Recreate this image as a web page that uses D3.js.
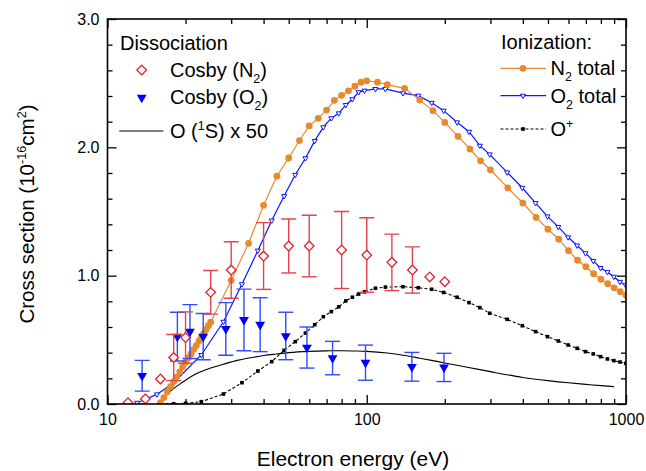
<!DOCTYPE html>
<html>
<head>
<meta charset="utf-8">
<script src="https://cdn.jsdelivr.net/npm/d3@7"></script>
<style>
  html, body { margin: 0; padding: 0; background: #fff; }
  svg { display: block; font-family: "Liberation Sans", Arial, sans-serif; }
</style>
</head>
<body>
<svg id="chart" width="646" height="471"></svg>
<script>
// ---------------- data ----------------
const n2Energy = [16,16.5,17,17.5,18,18.5,19,19.5,20,20.5,21,21.5,22,22.5,23,23.5,24,24.5,25,
  30,35,40,45,50,55,60,65,70,75,80,85,90,95,100,110,120,140,160,180,200,225,250,275,300,
  350,400,450,500,550,600,650,700,750,800,850,900,950,1000];
const n2Total = [0.01,0.05,0.095,0.135,0.175,0.21,0.25,0.29,0.325,0.36,0.39,0.425,0.455,0.49,0.52,0.55,0.58,0.61,0.637,
  0.963,1.252,1.548,1.775,1.917,2.053,2.167,2.226,2.29,2.366,2.405,2.44,2.476,2.507,2.518,2.507,2.488,2.46,2.368,2.286,2.194,2.085,1.987,1.895,1.825,
  1.684,1.566,1.454,1.362,1.284,1.195,1.12,1.07,1.015,0.972,0.937,0.905,0.875,0.848];

const o2Energy = [13,15.5,18,23,28,33,38,43,48,53,58,63,68,73,78,83,88,93,98,108,118,138,158,178,198,
  223,248,273,298,348,398,448,498,548,598,648,698,748,798,848,898,948,998];
const o2Total = [0.01,0.075,0.166,0.382,0.641,0.933,1.195,1.43,1.62,1.786,1.915,2.05,2.157,2.227,2.265,
  2.33,2.375,2.43,2.442,2.455,2.455,2.422,2.403,2.347,2.286,2.195,2.122,2.013,1.945,1.805,
  1.685,1.566,1.462,1.38,1.299,1.235,1.175,1.115,1.06,1.028,0.992,0.952,0.925];

const oPlusEnergy = [16,18,20,23,28,33,38,43,48,53,58,63,68,73,78,83,88,93,98,108,118,138,158,178,198,
  223,248,273,298,348,398,448,498,548,598,648,698,748,798,848,898,948,998];
const oPlus = [0,0.002,0.005,0.018,0.078,0.166,0.257,0.33,0.418,0.486,0.553,0.618,0.68,0.72,0.757,
  0.803,0.832,0.857,0.874,0.902,0.911,0.914,0.906,0.894,0.869,0.832,0.79,0.751,0.707,0.66,
  0.61,0.564,0.525,0.491,0.46,0.434,0.408,0.39,0.369,0.351,0.338,0.327,0.317];

const o1sEnergy = [16.3,17,18,19,20,22,25,28,32,36,40,45,50,60,70,80,90,100,120,140,160,180,200,250,300,400,500,600,700,800,900];
const o1sX50 = [0.04,0.08,0.12,0.155,0.185,0.235,0.28,0.31,0.342,0.362,0.378,0.39,0.4,0.41,0.414,0.415,0.413,0.41,0.397,0.378,0.357,0.338,0.32,0.283,0.252,0.207,0.182,0.165,0.153,0.143,0.135];

const cosbyN2Energy = [12,14,16,18,20,25,30,40,50,60,80,100,125,150,175,200];
const cosbyN2 = [0.01,0.04,0.195,0.362,0.518,0.87,1.044,1.153,1.231,1.231,1.2,1.161,1.104,1.044,0.99,0.953];
const cosbyN2Err = [0,0,0,0.18,0.2,0.17,0.22,0.26,0.21,0.24,0.3,0.29,0.22,0.18,0,0];

const cosbyO2Energy = [13.6,18.6,20.8,23.4,28.6,33.6,38.8,48.7,58.8,73.8,98.9,149.3,198.6];
const cosbyO2 = [0.22,0.525,0.564,0.525,0.585,0.655,0.618,0.53,0.44,0.358,0.322,0.29,0.285];
const cosbyO2Err = [0.12,0.19,0.21,0.18,0.205,0.24,0.21,0.185,0.16,0.13,0.137,0.112,0.11];

const xMajorTicks = [10,100,1000];
const xMinorTicks = [20,30,40,50,60,70,80,90,200,300,400,500,600,700,800,900];
const yMajorTicks = [0,1,2,3];
const yMinorTicks = [0.2,0.4,0.6,0.8,1.2,1.4,1.6,1.8,2.2,2.4,2.6,2.8];

// ---------------- layout ----------------
const L = 107.5, R = 626, T = 19, B = 404;
const svg = d3.select("#chart");
const x = d3.scaleLog().domain([10,1000]).range([L,R]);
const y = d3.scaleLinear().domain([0,3]).range([B,T]);

const ORANGE = "#E8892F", BLUE = "#0a14ff", RED = "#E3202A", REDBAR = "#E8424A", BLUEBAR = "#2F4BFF";

svg.append("defs").append("clipPath").attr("id","clip")
  .append("rect").attr("x",L).attr("y",T).attr("width",R-L).attr("height",B-T);

const plot = svg.append("g").attr("clip-path","url(#clip)");
const zip = (a,b) => a.map((v,i)=>[v,b[i]]);
const line = d3.line().x(d=>x(d[0])).y(d=>y(d[1]));

// O(1S) x 50
plot.append("path").datum(zip(o1sEnergy,o1sX50))
  .attr("d", line.curve(d3.curveMonotoneX)).attr("fill","none").attr("stroke","#000").attr("stroke-width",1.1);
line.curve(d3.curveLinear);

// O+
const opData = zip(oPlusEnergy,oPlus);
plot.append("path").datum(opData).attr("d",line).attr("fill","none")
  .attr("stroke","#000").attr("stroke-width",1.1).attr("stroke-dasharray","3,2");
plot.selectAll(".op").data(opData).join("rect")
  .attr("x",d=>x(d[0])-1.8).attr("y",d=>y(d[1])-1.8).attr("width",3.6).attr("height",3.6).attr("fill","#000");

// O2 total
const o2Data = zip(o2Energy,o2Total);
plot.append("path").datum(o2Data).attr("d",line).attr("fill","none").attr("stroke",BLUE).attr("stroke-width",1.2);
const smallTri = d3.symbol().type(d3.symbolTriangle).size(11);
plot.selectAll(".o2m").data(o2Data).join("path")
  .attr("d",smallTri).attr("transform",d=>`translate(${x(d[0])},${y(d[1])}) rotate(180)`)
  .attr("fill","#fff").attr("stroke",BLUE).attr("stroke-width",1);

// N2 total
const n2Data = zip(n2Energy,n2Total);
plot.append("path").datum(n2Data).attr("d",line).attr("fill","none").attr("stroke",ORANGE).attr("stroke-width",1.2);
plot.selectAll(".n2m").data(n2Data).join("circle")
  .attr("cx",d=>x(d[0])).attr("cy",d=>y(d[1])).attr("r",3.4).attr("fill",ORANGE);

// Cosby O2
const cO2 = cosbyO2Energy.map((e,i)=>({e, v:cosbyO2[i], err:cosbyO2Err[i]}));
const eb2 = plot.selectAll(".eb2").data(cO2.filter(d=>d.err>0)).join("g")
  .attr("stroke",BLUEBAR).attr("stroke-width",1.4).attr("fill","none");
eb2.append("line").attr("x1",d=>x(d.e)).attr("x2",d=>x(d.e)).attr("y1",d=>y(d.v+d.err)).attr("y2",d=>y(d.v-d.err));
eb2.append("line").attr("x1",d=>x(d.e)-7.5).attr("x2",d=>x(d.e)+7.5).attr("y1",d=>y(d.v+d.err)).attr("y2",d=>y(d.v+d.err));
eb2.append("line").attr("x1",d=>x(d.e)-7.5).attr("x2",d=>x(d.e)+7.5).attr("y1",d=>y(d.v-d.err)).attr("y2",d=>y(d.v-d.err));
const bigTri = d3.symbol().type(d3.symbolTriangle).size(42);
plot.selectAll(".c2m").data(cO2).join("path")
  .attr("d",bigTri).attr("transform",d=>`translate(${x(d.e)},${y(d.v)}) rotate(180)`).attr("fill","#0000ff");

// Cosby N2
const cN2 = cosbyN2Energy.map((e,i)=>({e, v:cosbyN2[i], err:cosbyN2Err[i]}));
const eb1 = plot.selectAll(".eb1").data(cN2.filter(d=>d.err>0)).join("g")
  .attr("stroke",REDBAR).attr("stroke-width",1.4).attr("fill","none");
eb1.append("line").attr("x1",d=>x(d.e)).attr("x2",d=>x(d.e)).attr("y1",d=>y(d.v+d.err)).attr("y2",d=>y(d.v-d.err));
eb1.append("line").attr("x1",d=>x(d.e)-7.5).attr("x2",d=>x(d.e)+7.5).attr("y1",d=>y(d.v+d.err)).attr("y2",d=>y(d.v+d.err));
eb1.append("line").attr("x1",d=>x(d.e)-7.5).attr("x2",d=>x(d.e)+7.5).attr("y1",d=>y(d.v-d.err)).attr("y2",d=>y(d.v-d.err));
const diamond = d3.symbol().type(d3.symbolSquare).size(46);
plot.selectAll(".c1m").data(cN2).join("path")
  .attr("d",diamond).attr("transform",d=>`translate(${x(d.e)},${y(d.v)}) rotate(45)`)
  .attr("fill","#fff").attr("stroke",RED).attr("stroke-width",1.3);

// ---------------- axes ----------------
function styleAxis(g){ g.select(".domain").remove(); g.selectAll("line").attr("stroke","#000").attr("stroke-width",1.3); }
const fs = 16;
svg.append("g").attr("transform",`translate(0,${B})`)
  .call(d3.axisBottom(x).tickValues(xMajorTicks).tickSize(-9).tickPadding(10).tickFormat(d3.format("d")))
  .call(styleAxis).call(g=>g.selectAll("text").attr("font-size",fs).attr("font-family","Liberation Sans, Arial").attr("fill","#000"));
svg.append("g").attr("transform",`translate(0,${B})`)
  .call(d3.axisBottom(x).tickValues(xMinorTicks).tickSize(-5).tickFormat(""))
  .call(styleAxis);
svg.append("g").attr("transform",`translate(0,${T})`)
  .call(d3.axisTop(x).tickValues(xMajorTicks).tickSize(-9).tickFormat("")).call(styleAxis);
svg.append("g").attr("transform",`translate(0,${T})`)
  .call(d3.axisTop(x).tickValues(xMinorTicks).tickSize(-5).tickFormat("")).call(styleAxis);
svg.append("g").attr("transform",`translate(${L},0)`)
  .call(d3.axisLeft(y).tickValues(yMajorTicks).tickSize(-9).tickPadding(8).tickFormat(d3.format(".1f")))
  .call(styleAxis).call(g=>g.selectAll("text").attr("font-size",fs).attr("font-family","Liberation Sans, Arial").attr("fill","#000"));
svg.append("g").attr("transform",`translate(${L},0)`)
  .call(d3.axisLeft(y).tickValues(yMinorTicks).tickSize(-5).tickFormat("")).call(styleAxis);
svg.append("g").attr("transform",`translate(${R},0)`)
  .call(d3.axisRight(y).tickValues(yMajorTicks).tickSize(-9).tickFormat("")).call(styleAxis);
svg.append("g").attr("transform",`translate(${R},0)`)
  .call(d3.axisRight(y).tickValues(yMinorTicks).tickSize(-5).tickFormat("")).call(styleAxis);
svg.append("rect").attr("x",L).attr("y",T).attr("width",R-L).attr("height",B-T)
  .attr("fill","none").attr("stroke","#000").attr("stroke-width",1.6);

// rich text helper
function rich(g, parts, size){
  const t = g.append("text").attr("font-size",size).attr("fill","#000");
  let shift = 0;
  parts.forEach(([s,kind])=>{
    const ts = t.append("tspan").text(s);
    let target = kind==="sub" ? size*0.3 : kind==="sup" ? -size*0.4 : 0;
    ts.attr("dy", target - shift);
    shift = target;
    if(kind) ts.attr("font-size", size*0.62);
  });
  return t;
}

// axis titles
rich(svg.append("g").attr("transform","translate(34,214) rotate(-90)"),
  [["Cross section (10"],["-16","sup"],["cm"],["2","sup"],[")"]], 20.5).attr("text-anchor","middle");
rich(svg.append("g").attr("transform","translate(353,465.5)"),
  [["Electron energy (eV)"]], 21).attr("text-anchor","middle");

// ---------------- legends ----------------
const LG = 20;
rich(svg.append("g").attr("transform","translate(120,49.5)"), [["Dissociation"]], LG);
svg.append("path").attr("d",diamond).attr("transform","translate(141.7,70) rotate(45)")
  .attr("fill","#fff").attr("stroke",RED).attr("stroke-width",1.3);
rich(svg.append("g").attr("transform","translate(170,77.3)"), [["Cosby (N"],["2","sub"],[")"]], LG);
svg.append("path").attr("d",bigTri).attr("transform","translate(141.7,97.5) rotate(180)").attr("fill","#0000ff");
rich(svg.append("g").attr("transform","translate(170,104)"), [["Cosby (O"],["2","sub"],[")"]], LG);
svg.append("line").attr("x1",119.3).attr("x2",163.3).attr("y1",131).attr("y2",131).attr("stroke","#000").attr("stroke-width",1.1);
rich(svg.append("g").attr("transform","translate(170,137.5)"), [["O ("],["1","sup"],["S) x 50"]], LG);

rich(svg.append("g").attr("transform","translate(501,48.5)"), [["Ionization:"]], LG);
svg.append("line").attr("x1",500.5).attr("x2",546).attr("y1",68.3).attr("y2",68.3).attr("stroke",ORANGE).attr("stroke-width",1.2);
svg.append("circle").attr("cx",523).attr("cy",68.3).attr("r",3.4).attr("fill",ORANGE);
rich(svg.append("g").attr("transform","translate(550.5,75)"), [["N"],["2","sub"],[" total"]], LG);
svg.append("line").attr("x1",500.5).attr("x2",546).attr("y1",95.7).attr("y2",95.7).attr("stroke",BLUE).attr("stroke-width",1.2);
svg.append("path").attr("d",smallTri).attr("transform","translate(523,95.7) rotate(180)")
  .attr("fill","#fff").attr("stroke",BLUE).attr("stroke-width",1);
rich(svg.append("g").attr("transform","translate(550.5,102.5)"), [["O"],["2","sub"],[" total"]], LG);
svg.append("line").attr("x1",500.5).attr("x2",546).attr("y1",129).attr("y2",129).attr("stroke","#000")
  .attr("stroke-width",1.1).attr("stroke-dasharray","3,2");
svg.append("rect").attr("x",521.2).attr("y",127.2).attr("width",3.6).attr("height",3.6).attr("fill","#000");
rich(svg.append("g").attr("transform","translate(550.5,136)"), [["O"],["+","sup"]], LG);
</script>
</body>
</html>
